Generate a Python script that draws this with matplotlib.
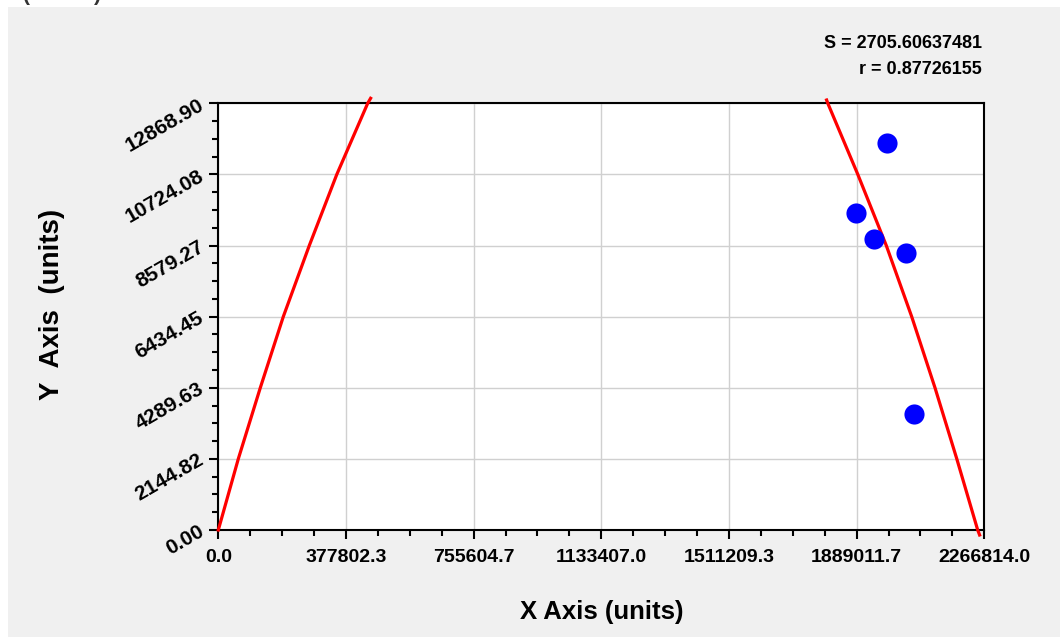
import matplotlib.pyplot as plt
from matplotlib.ticker import FixedLocator, AutoMinorLocator
from matplotlib.patches import Rectangle

# measured data points
x_pts = [1887100, 1940400, 1979800, 2035100, 2057900]
y_pts = [9569, 8785, 11681, 8363, 3490]

# fitted curve (two visible pieces)
fit_x_left = [0, 59186, 124290, 192354, 269295, 350676, 442118, 450700]
fit_y_left = [0, 2144.82, 4289.63, 6434.45, 8579.27, 10724.08, 12868.90, 13020]
fit_x_right = [1800136, 1803687, 1892466, 1976806, 2051972, 2120924, 2185436, 2247285, 2252907]
fit_y_right = [12968, 12868.90, 10724.08, 8579.27, 6434.45, 4289.63, 2144.82, 0, -150]

x_ticks = [0.0, 377802.3, 755604.7, 1133407.0, 1511209.3, 1889011.7, 2266814.0]
y_ticks = [0.00, 2144.82, 4289.63, 6434.45, 8579.27, 10724.08, 12868.90]

S_val = "2705.60637481"
r_val = "0.87726155"

plt.rcParams['font.family'] = ['Liberation Sans', 'DejaVu Sans']
plt.rcParams['font.weight'] = 'bold'

fig = plt.figure(figsize=(10.6, 6.37), dpi=100)
fig.patch.set_facecolor('white')
fig.patches.append(Rectangle((8/1060, 0), 1, 1 - 7/637, transform=fig.transFigure,
                             facecolor='#f0f0f0', edgecolor='none', zorder=-10))
# bits of a title cut off at the top
fig.text(23/1060, 1 - 1/637, "(", fontsize=15, va='baseline', color='#333333')
fig.text(94/1060, 1 - 1/637, ")", fontsize=15, va='baseline', color='#333333')

ax = fig.add_axes([218.3/1060, 1 - 530/637, 766/1060, 426.7/637])
ax.set_facecolor('white')

ax.plot(fit_x_left, fit_y_left, color='red', lw=2.3, clip_on=False, zorder=3)
ax.plot(fit_x_right, fit_y_right, color='red', lw=2.3, clip_on=False, zorder=3)
ax.plot(x_pts, y_pts, 'o', color='blue', markersize=14.5, markeredgewidth=0, zorder=4)

ax.set_xlim(0, 2266814.0)
ax.set_ylim(0, 12868.90)

ax.xaxis.set_major_locator(FixedLocator(x_ticks))
ax.yaxis.set_major_locator(FixedLocator(y_ticks))
ax.xaxis.set_minor_locator(AutoMinorLocator(4))
ax.yaxis.set_minor_locator(AutoMinorLocator(4))
ax.set_xticklabels(["%.1f" % v for v in x_ticks], fontsize=14, fontweight='bold')
ax.set_yticklabels(["%.2f" % v for v in y_ticks], fontsize=15, fontweight='bold',
                   rotation=30, ha='right', va='center', rotation_mode='anchor')

ax.tick_params(which='major', direction='out', length=6.5, width=1.5, color='black')
ax.tick_params(which='minor', direction='out', length=4, width=1.5, color='black')
ax.tick_params(axis='x', which='major', pad=7)
ax.tick_params(axis='y', which='major', pad=5)
ax.tick_params(top=False, right=False, which='both')

ax.grid(True, which='major', color='#d0d0d0', lw=1)
ax.set_axisbelow(True)
for s in ax.spines.values():
    s.set_linewidth(1.5)
    s.set_color('black')

fig.text(601.7/1060, 1 - 611.7/637, "X Axis (units)", fontsize=18.5, fontweight='bold',
         ha='center', va='center')
fig.text(52/1060, 1 - 304/637, "Y  Axis  (units)", fontsize=20, fontweight='bold',
         ha='center', va='center', rotation=90)

fig.text(982/1060, 1 - 44/637, "S = " + S_val, fontsize=13, fontweight='bold',
         ha='right', va='center')
fig.text(982/1060, 1 - 70/637, "r = " + r_val, fontsize=13, fontweight='bold',
         ha='right', va='center')

plt.savefig("out.png", dpi=100, facecolor=fig.get_facecolor())
